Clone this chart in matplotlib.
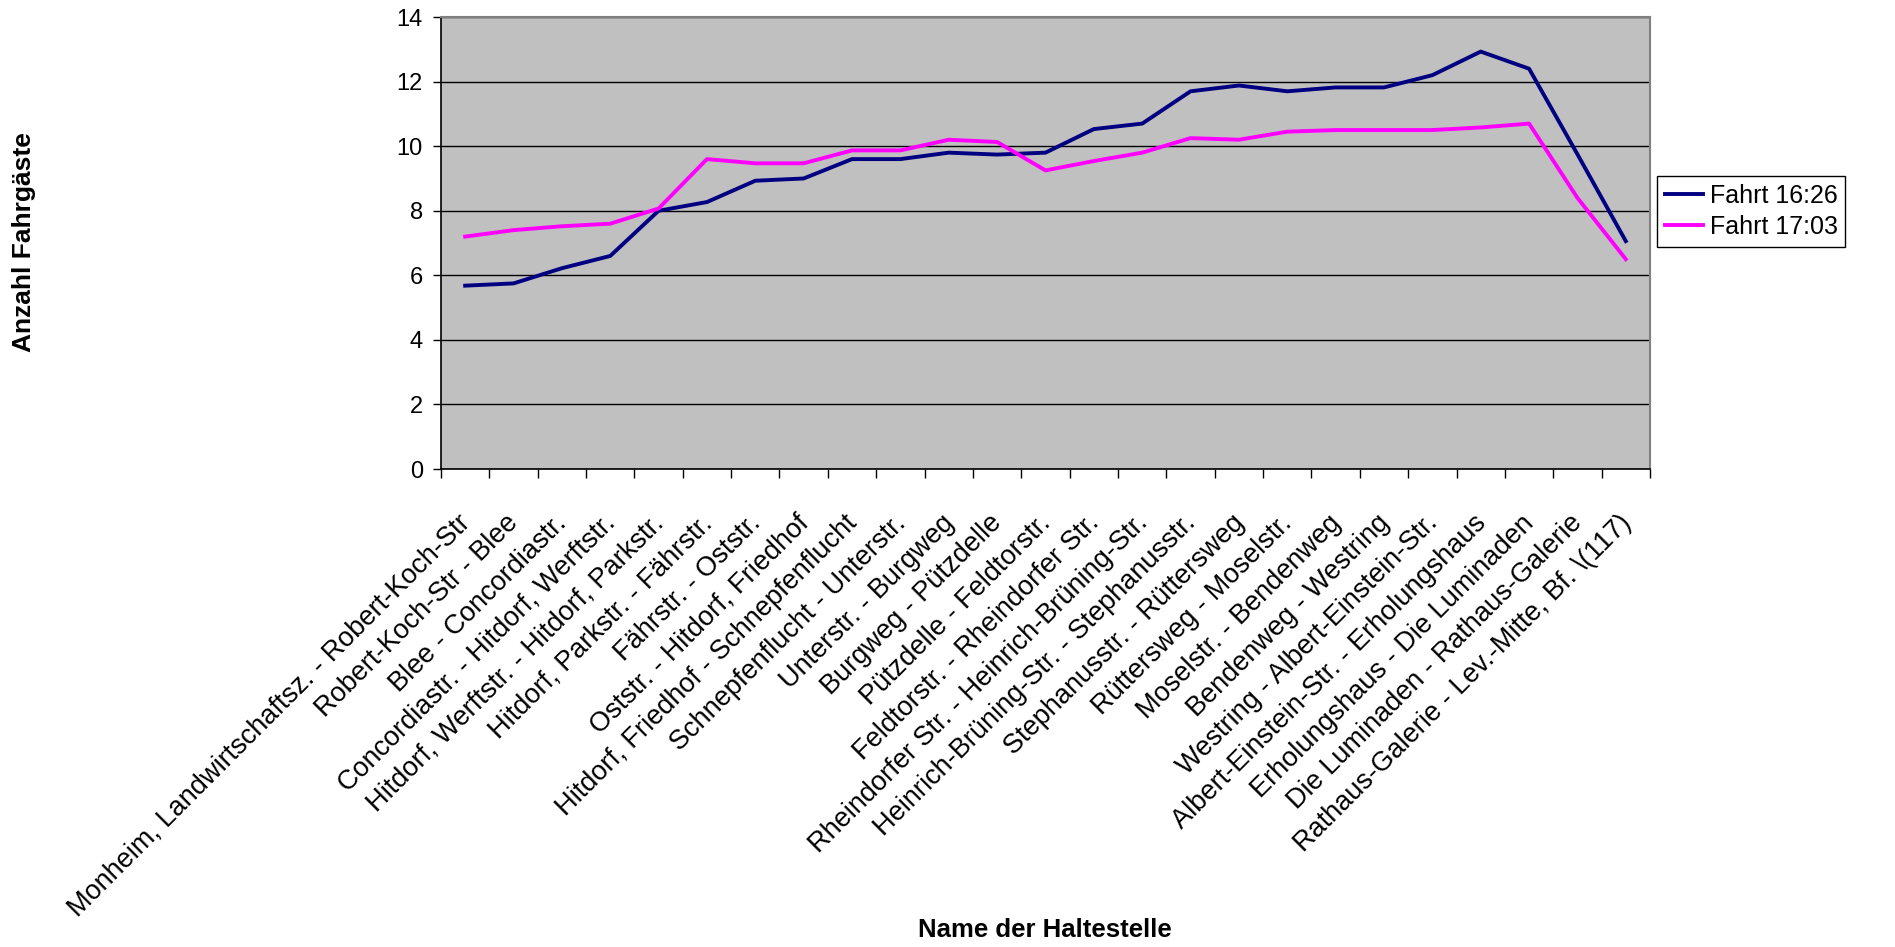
import matplotlib
matplotlib.use('Agg')
from matplotlib import pyplot as plt
from matplotlib.transforms import ScaledTranslation

haltestellen = [
    'Monheim, Landwirtschaftsz. - Robert-Koch-Str',
    'Robert-Koch-Str - Blee',
    'Blee - Concordiastr.',
    'Concordiastr. - Hitdorf, Werftstr.',
    'Hitdorf, Werftstr. - Hitdorf, Parkstr.',
    'Hitdorf, Parkstr. - Fährstr.',
    'Fährstr. - Oststr.',
    'Oststr. - Hitdorf, Friedhof',
    'Hitdorf, Friedhof - Schnepfenflucht',
    'Schnepfenflucht - Unterstr.',
    'Unterstr. - Burgweg',
    'Burgweg - Pützdelle',
    'Pützdelle - Feldtorstr.',
    'Feldtorstr. - Rheindorfer Str.',
    'Rheindorfer Str. - Heinrich-Brüning-Str.',
    'Heinrich-Brüning-Str. - Stephanusstr.',
    'Stephanusstr. - Rüttersweg',
    'Rüttersweg - Moselstr.',
    'Moselstr. - Bendenweg',
    'Bendenweg - Westring',
    'Westring - Albert-Einstein-Str.',
    'Albert-Einstein-Str. - Erholungshaus',
    'Erholungshaus - Die Luminaden',
    'Die Luminaden - Rathaus-Galerie',
    'Rathaus-Galerie - Lev.-Mitte, Bf. \\(117)',
]

fahrt_1626 = [5.68, 5.75, 6.22, 6.6, 8.0, 8.27, 8.93, 9.0, 9.6, 9.6, 9.8, 9.74, 9.8,
              10.53, 10.7, 11.7, 11.88, 11.7, 11.82, 11.82, 12.2, 12.93, 12.4, 9.75, 7.06]
fahrt_1703 = [7.2, 7.4, 7.52, 7.6, 8.07, 9.6, 9.47, 9.47, 9.87, 9.87, 10.2, 10.13, 9.25,
              9.54, 9.8, 10.25, 10.2, 10.45, 10.5, 10.5, 10.5, 10.58, 10.7, 8.4, 6.5]

plt.rcParams['font.family'] = ['Liberation Sans', 'DejaVu Sans']

fig = plt.figure(figsize=(18.95, 9.47), dpi=100)
ax = fig.add_axes([0.2327, 0.5047, 0.6380, 0.4773])

x = list(range(len(haltestellen)))
ax.plot(x, fahrt_1626, color='#000080', linewidth=2.8, label='Fahrt 16:26')
ax.plot(x, fahrt_1703, color='#FF00FF', linewidth=2.8, label='Fahrt 17:03')

ax.set_facecolor('#C0C0C0')
ax.set_xlim(-0.5, len(haltestellen) - 0.5)
ax.set_ylim(0, 14)
ax.set_yticks(range(0, 15, 2))
ax.yaxis.grid(True, color='black', linewidth=1)
ax.set_axisbelow(True)

# category boundaries get the tick marks, names sit in between
ax.set_xticks([i - 0.5 for i in range(len(haltestellen) + 1)])
ax.set_xticklabels([])
ax.set_xticks(x, minor=True)
ax.set_xticklabels(haltestellen, minor=True, rotation=45, ha='right', va='top',
                   rotation_mode='anchor', fontsize=19.5)
ax.tick_params(axis='x', which='minor', length=0, pad=29.5)
ax.tick_params(axis='x', which='major', direction='out', length=6.5, width=1)
ax.tick_params(axis='y', direction='out', length=6, width=1, labelsize=17, pad=7)

shift = ScaledTranslation(-0.08, 0, fig.dpi_scale_trans)
for lbl in ax.get_xticklabels(minor=True):
    lbl.set_transform(lbl.get_transform() + shift)

for side in ['top', 'right']:
    ax.spines[side].set_color('#808080')
    ax.spines[side].set_linewidth(1.5)
for side in ['left', 'bottom']:
    ax.spines[side].set_color('black')
    ax.spines[side].set_linewidth(1.2)

fig.text(0.0127, 0.744, 'Anzahl Fahrgäste', rotation=90, ha='center', va='center',
         fontsize=19, fontweight='bold')
fig.text(0.5515, 0.018, 'Name der Haltestelle', ha='center', va='center',
         fontsize=18.5, fontweight='bold')

leg = ax.legend(loc='center left', bbox_to_anchor=(1.006, 0.57), fontsize=18,
                frameon=True, fancybox=False, edgecolor='black', framealpha=1,
                handlelength=1.55, borderpad=0.3, labelspacing=0.3,
                handletextpad=0.25, borderaxespad=0)
leg.get_frame().set_linewidth(1)

fig.savefig('out.png', dpi=100, facecolor='white')
